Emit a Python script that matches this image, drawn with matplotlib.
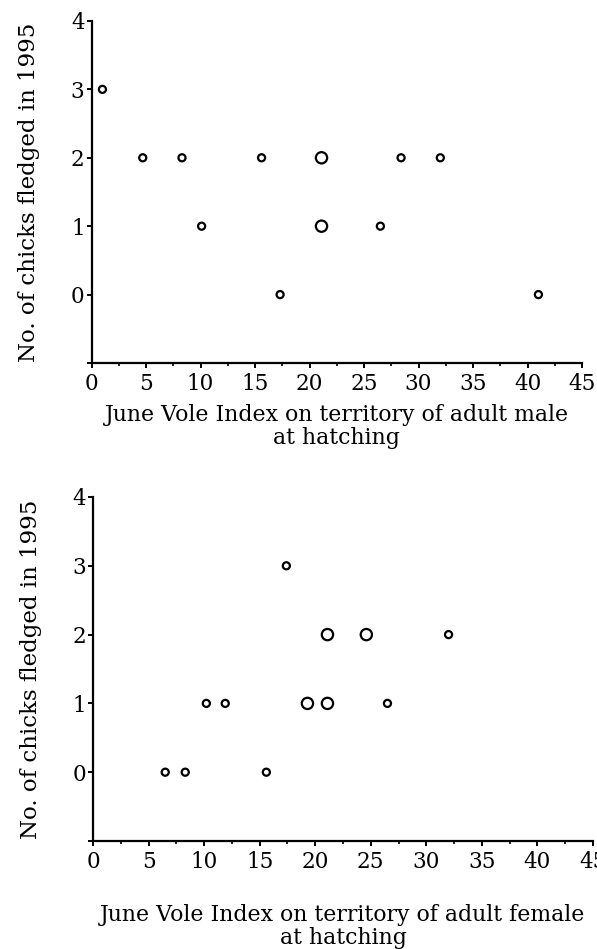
import matplotlib
matplotlib.use("Agg")
import matplotlib.pyplot as plt
from matplotlib.ticker import MultipleLocator

# June vole index vs chicks fledged (big circle = two birds at the same spot)
male_vole = [1.0, 4.7, 8.3, 10.1, 15.6, 17.3, 21.1, 21.1, 26.5, 28.4, 32.0, 41.0]
male_chicks = [3, 2, 2, 1, 2, 0, 2, 1, 1, 2, 2, 0]
male_count = [1, 1, 1, 1, 1, 1, 2, 2, 1, 1, 1, 1]

female_vole = [6.5, 8.3, 15.6, 10.2, 11.9, 19.3, 21.1, 26.5, 17.4, 21.1, 24.6, 32.0]
female_chicks = [0, 0, 0, 1, 1, 1, 1, 1, 3, 2, 2, 2]
female_count = [1, 1, 1, 1, 1, 2, 2, 1, 1, 2, 2, 1]

y_ticks = [-1, 0, 1, 2, 3, 4]
y_tick_labels = ["", "0", "1", "2", "3", "4"]
x_ticks = [0, 5, 10, 15, 20, 25, 30, 35, 40, 45]

ylabel = "No. of chicks fledged in 1995"
xlabels = ["June Vole Index on territory of adult male\nat hatching",
           "June Vole Index on territory of adult female\nat hatching"]

plt.rcParams["font.family"] = ["DejaVu Serif"]

fig = plt.figure(figsize=(5.97, 9.49), dpi=100)
ax_top = fig.add_axes([0.1533, 0.6175, 0.8216, 0.3604])
ax_bot = fig.add_axes([0.1558, 0.1138, 0.8375, 0.3625])

size_for = {1: 26, 2: 66}


def draw_panel(ax, xs, ys, counts, label):
    sizes = [size_for[c] for c in counts]
    ax.scatter(xs, ys, s=sizes, facecolors="white", edgecolors="black",
               linewidths=1.6, zorder=3, clip_on=False)
    ax.set_xlim(0, 45)
    ax.set_ylim(-1, 4)
    ax.set_xticks(x_ticks)
    ax.xaxis.set_minor_locator(MultipleLocator(2.5))
    ax.set_yticks(y_ticks)
    ax.set_yticklabels(y_tick_labels)
    for side in ("top", "right"):
        ax.spines[side].set_visible(False)
    for side in ("left", "bottom"):
        ax.spines[side].set_linewidth(1.6)
    ax.tick_params(which="major", length=3.5, width=1.4, labelsize=15.5)
    ax.tick_params(axis="x", pad=4)
    ax.tick_params(axis="y", pad=1.5)
    ax.tick_params(which="minor", length=2, width=1.2)
    ax.set_ylabel(ylabel, fontsize=16.5, labelpad=22)
    ax.set_xlabel(label, fontsize=15.8, labelpad=6, linespacing=1.05)


draw_panel(ax_top, male_vole, male_chicks, male_count, xlabels[0])
draw_panel(ax_bot, female_vole, female_chicks, female_count, xlabels[1])
ax_bot.xaxis.labelpad = 22

fig.savefig("out.png", dpi=100)
